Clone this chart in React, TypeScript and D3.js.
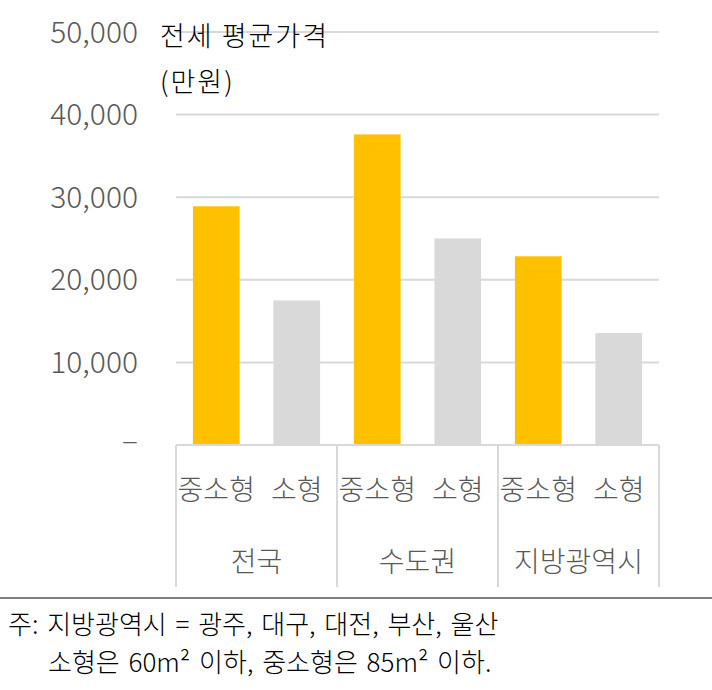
import React, { useEffect, useRef } from 'react';
import * as d3 from 'd3';

const groups = ['전국', '수도권', '지방광역시'];
const sizes = ['중소형', '소형'];
const midSmallValues = [28900, 37600, 22850];
const smallValues = [17500, 25000, 13550];
const yTicks = [0, 10000, 20000, 30000, 40000, 50000];
const titleLines = ['전세 평균가격', '(만원)'];
const noteLines = ['주: 지방광역시 = 광주, 대구, 대전, 부산, 울산', '소형은 60m² 이하, 중소형은 85m² 이하.'];

const FONT = '"Noto Sans CJK KR", "Noto Sans", sans-serif';

const App: React.FC = () => {
  const ref = useRef<SVGSVGElement | null>(null);

  useEffect(() => {
    if (!ref.current) return;
    const svg = d3.select(ref.current);
    svg.selectAll('*').remove();

    const width = 712;
    const height = 690;
    const plot = { left: 176, right: 659, top: 32, bottom: 445 };

    const rows = groups.flatMap((g, i) => [
      { key: `${g}-${sizes[0]}`, group: g, size: sizes[0], value: midSmallValues[i], color: '#FFC000' },
      { key: `${g}-${sizes[1]}`, group: g, size: sizes[1], value: smallValues[i], color: '#D9D9D9' },
    ]);

    const x = d3
      .scaleBand()
      .domain(rows.map((r) => r.key))
      .range([plot.left, plot.right])
      .paddingInner(0.42)
      .paddingOuter(0.21);

    const y = d3.scaleLinear().domain([0, 50000]).range([plot.bottom, plot.top]);

    svg
      .attr('width', width)
      .attr('height', height)
      .style('font-family', FONT)
      .style('font-weight', 300);

    // grid lines
    svg
      .selectAll('.grid')
      .data(yTicks.filter((d) => d > 0))
      .enter()
      .append('line')
      .attr('x1', plot.left)
      .attr('x2', plot.right)
      .attr('y1', (d) => y(d))
      .attr('y2', (d) => y(d))
      .attr('stroke', '#D9D9D9')
      .attr('stroke-width', 2);

    // y tick labels
    svg
      .selectAll('.ytick')
      .data(yTicks)
      .enter()
      .append('text')
      .attr('x', 138)
      .attr('y', (d) => y(d))
      .attr('dy', (d) => (d === 0 ? '0.2em' : '0.35em'))
      .attr('text-anchor', 'end')
      .attr('fill', '#595959')
      .attr('font-size', 30)
      .text((d) => (d === 0 ? '–' : d3.format(',')(d)));

    // bars
    svg
      .selectAll('.bar')
      .data(rows)
      .enter()
      .append('rect')
      .attr('x', (d) => x(d.key)!)
      .attr('y', (d) => y(d.value))
      .attr('width', x.bandwidth())
      .attr('height', (d) => y(0) - y(d.value))
      .attr('fill', (d) => d.color);

    // baseline
    svg
      .append('line')
      .attr('x1', plot.left)
      .attr('x2', plot.right)
      .attr('y1', y(0))
      .attr('y2', y(0))
      .attr('stroke', '#D9D9D9')
      .attr('stroke-width', 2);

    // group separators
    const groupWidth = x.step() * 2;
    svg
      .selectAll('.sep')
      .data(d3.range(groups.length + 1))
      .enter()
      .append('line')
      .attr('x1', (i) => plot.left + i * groupWidth)
      .attr('x2', (i) => plot.left + i * groupWidth)
      .attr('y1', y(0))
      .attr('y2', 587)
      .attr('stroke', '#D9D9D9')
      .attr('stroke-width', 2);

    // size labels
    svg
      .selectAll('.size')
      .data(rows)
      .enter()
      .append('text')
      .attr('x', (d) => x(d.key)! + x.bandwidth() / 2)
      .attr('y', 500)
      .attr('text-anchor', 'middle')
      .attr('fill', '#595959')
      .attr('font-size', 28)
      .text((d) => d.size);

    // group labels
    svg
      .selectAll('.group')
      .data(groups)
      .enter()
      .append('text')
      .attr('x', (_, i) => plot.left + (i + 0.5) * groupWidth)
      .attr('y', 572)
      .attr('text-anchor', 'middle')
      .attr('fill', '#595959')
      .attr('font-size', 28)
      .text((d) => d);

    // title
    svg
      .selectAll('.title')
      .data(titleLines)
      .enter()
      .append('text')
      .attr('x', 160)
      .attr('y', (_, i) => 46 + i * 46)
      .attr('fill', '#000')
      .attr('font-size', 27)
      .attr('letter-spacing', 2)
      .text((d) => d);

    // footnote rule
    svg
      .append('line')
      .attr('x1', 0)
      .attr('x2', width)
      .attr('y1', 598)
      .attr('y2', 598)
      .attr('stroke', '#000')
      .attr('stroke-width', 1);

    svg
      .selectAll('.note')
      .data(noteLines)
      .enter()
      .append('text')
      .attr('x', (_, i) => (i === 0 ? 8 : 48))
      .attr('y', (_, i) => 634 + i * 38)
      .attr('fill', '#000')
      .attr('font-size', 26)
      .attr('word-spacing', 3)
      .text((d) => d);
  }, []);

  return <svg ref={ref} style={{ position: 'absolute', left: 0, top: 0 }}></svg>;
};

export default App;
